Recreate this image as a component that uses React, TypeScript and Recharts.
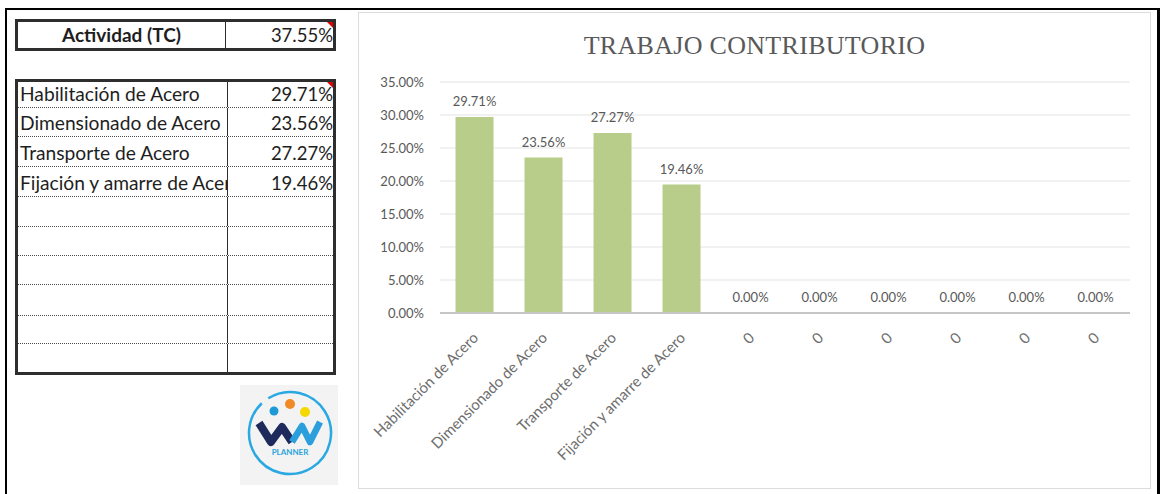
import React from "react";
import { ComposedChart, Bar, Line, XAxis, YAxis, CartesianGrid, LabelList } from "recharts";

// chart + sheet values
const categories = [
  "Habilitación de Acero",
  "Dimensionado de Acero",
  "Transporte de Acero",
  "Fijación y amarre de Acero",
  "0",
  "0",
  "0",
  "0",
  "0",
  "0",
];
const values = [29.71, 23.56, 27.27, 19.46, 0, 0, 0, 0, 0, 0];
const yTicks = [0, 5, 10, 15, 20, 25, 30, 35];
const activityLabel = "Actividad (TC)";
const activityValue = 37.55;
const tableRows = 10;

const chartData = categories.map((name, i) => ({ name, value: values[i] }));
const pct = (v: number) => v.toFixed(2) + "%";

const sans = "Lato, 'Open Sans', sans-serif";
const gray = "#595959";
// sheet row heights (px)
const rowHeights = [26, 29, 30, 30, 30, 29, 29, 31, 28, 28];

function AngledTick({ x, y, payload }: any) {
  return (
    <g transform={`translate(${x + 2},${y + 15})`}>
      <text
        x={0}
        y={0}
        dy={4}
        textAnchor="end"
        transform="rotate(-45)"
        fill="#6e6e6e"
        fontSize={15}
        fontFamily={sans}
      >
        {payload.value}
      </text>
    </g>
  );
}

function RedMark() {
  return (
    <div
      style={{
        position: "absolute",
        top: 0,
        right: 0,
        width: 0,
        height: 0,
        borderTop: "6px solid #e00000",
        borderLeft: "6px solid transparent",
      }}
    />
  );
}

function SheetTable() {
  const rows = Array.from({ length: tableRows }, (_, i) => ({
    name: i < 4 ? categories[i] : "",
    value: i < 4 ? pct(values[i]) : "",
  }));
  return (
    <>
      <div
        style={{
          position: "absolute",
          left: 15,
          top: 19,
          width: 321,
          height: 32,
          border: "3px solid #2e2e2e",
          boxSizing: "border-box",
          display: "flex",
          fontFamily: sans,
          fontSize: 18.5,
          color: "#1e1e1e",
        }}
      >
        <div
          style={{
            width: 207,
            borderRight: "1.5px solid #2e2e2e",
            textAlign: "center",
            fontWeight: 700,
            fontSize: 19,
            lineHeight: "26px",
          }}
        >
          {activityLabel}
        </div>
        <div style={{ flex: 1, textAlign: "right", lineHeight: "26px", position: "relative" }}>
          {pct(activityValue)}
          <RedMark />
        </div>
      </div>

      <div
        style={{
          position: "absolute",
          left: 15,
          top: 79,
          width: 321,
          height: 296,
          border: "3px solid #2e2e2e",
          boxSizing: "border-box",
          fontFamily: sans,
          fontSize: 18.5,
          color: "#1e1e1e",
        }}
      >
        {rows.map((r, i) => (
          <div
            key={i}
            style={{
              display: "flex",
              alignItems: "flex-end",
              height: rowHeights[i],
              boxSizing: "border-box",
              borderBottom: i < tableRows - 1 ? "1px dotted #4a4a4a" : "none",
              position: "relative",
            }}
          >
            <div
              style={{
                width: 207,
                alignSelf: "stretch",
                display: "flex",
                alignItems: "flex-end",
                borderRight: "1.5px solid #2e2e2e",
                whiteSpace: "nowrap",
                overflow: "hidden",
                paddingLeft: 2,
                fontSize: 19.2,
                lineHeight: "26px",
              }}
            >
              {r.name}
            </div>
            <div style={{ flex: 1, textAlign: "right", lineHeight: "26px" }}>{r.value}</div>
            {i === 0 && <RedMark />}
          </div>
        ))}
      </div>
    </>
  );
}

function Logo() {
  return (
    <svg
      width={98}
      height={100}
      viewBox="0 0 98 100"
      style={{ position: "absolute", left: 240, top: 385 }}
    >
      <rect width={98} height={100} fill="#f3f3f3" />
      <circle
        cx={50}
        cy={48}
        r={41}
        fill="none"
        stroke="#2aa8e2"
        strokeWidth={2.5}
        strokeDasharray="249 8.6"
        transform="rotate(-122 50 48)"
      />
      <circle cx={34} cy={26} r={4.5} fill="#1b9ad6" />
      <circle cx={50} cy={19} r={5} fill="#f08a24" />
      <circle cx={65} cy={27} r={5} fill="#f5d800" />
      <path d="M19 38 L31 57 L42 42 L52 57" fill="none" stroke="#1f2a5c" strokeWidth={8} strokeLinejoin="round" />
      <path d="M52 57 L62 41 L70 57 L80 37" fill="none" stroke="#2a9fdc" strokeWidth={6.5} strokeLinejoin="round" />
      <text x={50} y={70} textAnchor="middle" fontSize={8} fontWeight={700} fill="#2aa3df" fontFamily={sans}>
        PLANNER
      </text>
    </svg>
  );
}

export default function App() {
  return (
    <div
      style={{
        position: "absolute",
        left: 0,
        top: 0,
        width: 1160,
        height: 494,
        background: "#fff",
        overflow: "hidden",
      }}
    >
      {/* sheet frame */}
      <div style={{ position: "absolute", left: 5, top: 8, width: 1155, height: 2, background: "#000" }} />
      <div style={{ position: "absolute", left: 5, top: 8, width: 2, height: 486, background: "#000" }} />
      <div style={{ position: "absolute", left: 1157, top: 8, width: 3, height: 486, background: "#000" }} />

      <SheetTable />
      <Logo />

      <div
        style={{
          position: "absolute",
          left: 358,
          top: 12,
          width: 793,
          height: 477,
          border: "1.5px solid #dcdcdc",
          boxSizing: "border-box",
          background: "#fff",
        }}
      >
        <div
          style={{
            position: "absolute",
            left: 0,
            right: 0,
            top: 20,
            textAlign: "center",
            fontFamily: "'Liberation Serif', serif",
            fontSize: 26,
            letterSpacing: 0.3,
            color: gray,
            lineHeight: "26px",
          }}
        >
          TRABAJO CONTRIBUTORIO
        </div>
        <ComposedChart
          width={790}
          height={473}
          data={chartData}
          margin={{ top: 69, right: 19, bottom: 13, left: 0 }}
          barCategoryGap="22.5%"
        >
          <CartesianGrid vertical={false} stroke="#e3e3e3" />
          <XAxis
            dataKey="name"
            axisLine={{ stroke: "#c6c6c6", strokeWidth: 2 }}
            tickLine={false}
            interval={0}
            height={160}
            tick={<AngledTick />}
          />
          <YAxis
            width={81}
            domain={[0, 35]}
            ticks={yTicks}
            tickFormatter={pct}
            axisLine={false}
            tickLine={false}
            tickMargin={10}
            tick={{ fill: gray, fontSize: 13, fontFamily: sans }}
          />
          <Bar dataKey="value" fill="#b7cd89" isAnimationActive={false} />
          <Line
            dataKey="value"
            stroke="none"
            dot={false}
            activeDot={false}
            legendType="none"
            isAnimationActive={false}
          >
            <LabelList
              dataKey="value"
              position="top"
              offset={11}
              formatter={(v: any) => pct(Number(v))}
              fill={gray}
              fontSize={13}
              fontFamily={sans}
            />
          </Line>
        </ComposedChart>
      </div>
    </div>
  );
}
